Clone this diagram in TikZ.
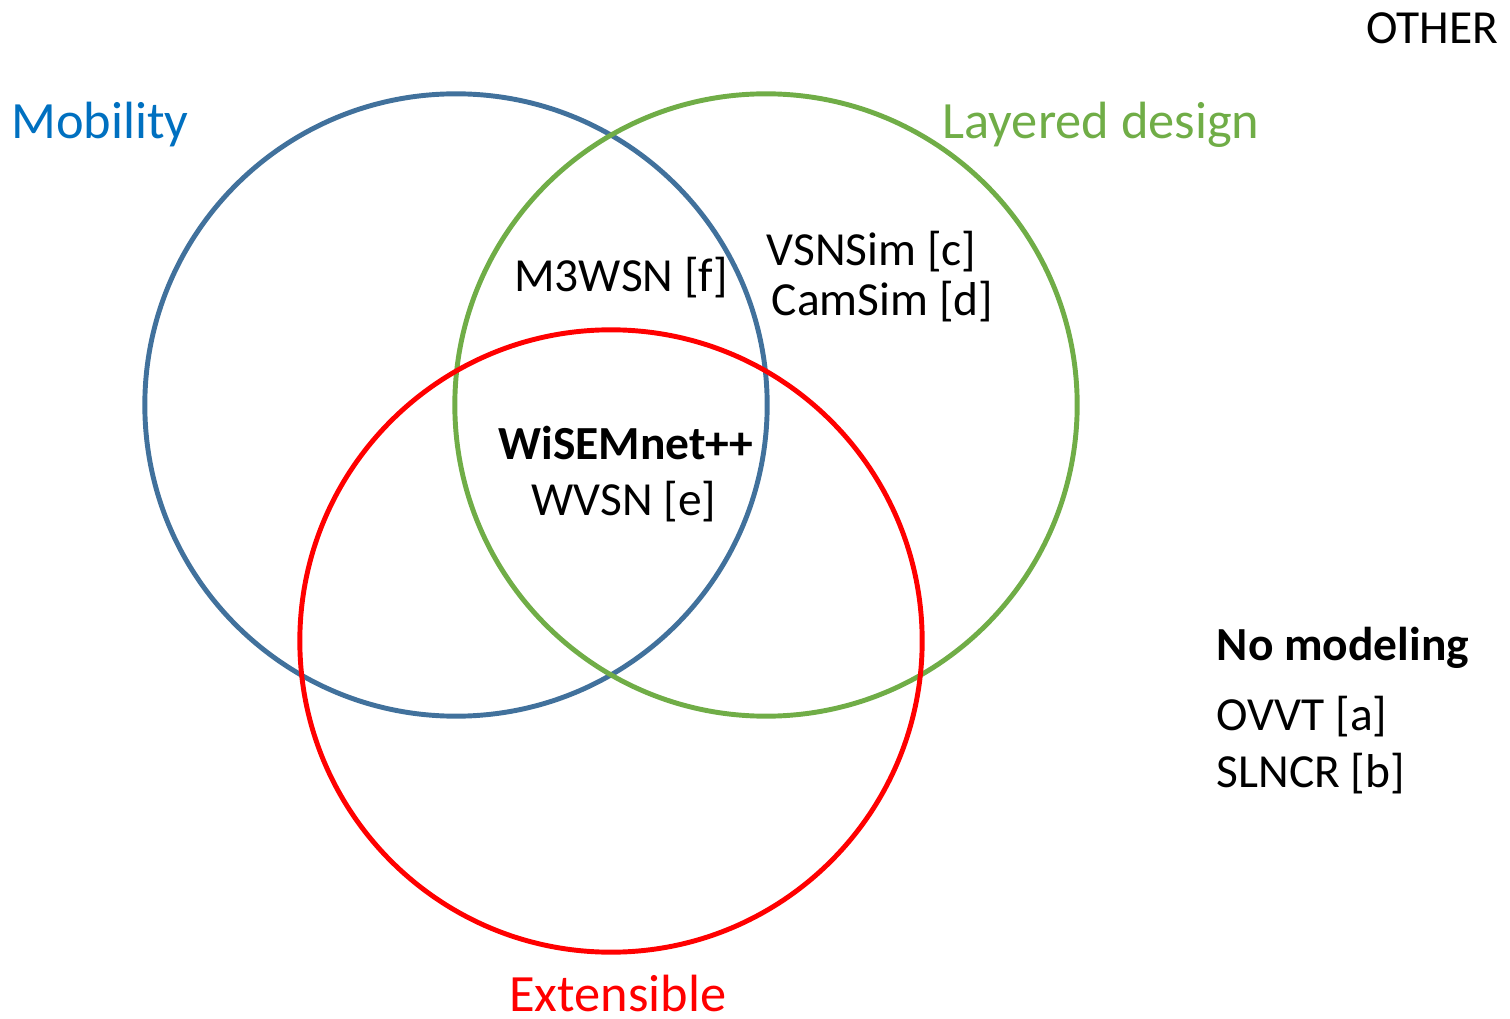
\documentclass[tikz,border=0pt]{standalone}
\usepackage{fontspec}
\setmainfont{Carlito}
\definecolor{mobblue}{HTML}{41719C}
\definecolor{mobtext}{HTML}{0070C0}
\definecolor{laygreen}{HTML}{70AD47}
\definecolor{extred}{HTML}{FF0000}
\begin{document}
\begin{tikzpicture}%
	[x=0.01cm, y=-0.01cm,
	set/.style={circle, draw, line width=1.4pt, minimum size=6.22cm, inner sep=0pt, outer sep=0pt},
	title/.style={inner sep=0pt, anchor=base, font=\fontsize{14.9}{17.8}\selectfont},
	item/.style={inner sep=0pt, anchor=base, font=\fontsize{13.5}{16}\selectfont},
	itemleft/.style={item, anchor=base west}]
	%
	%% Bounding box:
	%%
	\useasboundingbox (0,0) rectangle (1510,1019);
	%%
	%% Drawing the sets
	%%
	\node[set, draw=mobblue] (mobility) at (456,405) {};
	\node[set, draw=laygreen] (layered) at (766,405) {};
	\node[set, draw=extred] (extensible) at (611,641) {};
	%%
	%% Set titles
	%%
	\node[title, text=mobtext] (mobtitle) at (100,139) {Mobility};
	\node[title, text=laygreen] (laytitle) at (1101,139) {Layered design};
	\node[title, text=extred] (exttitle) at (618,1011) {Extensible};
	\node[item] (other) at (1432,44) {OTHER};
	%%
	%% Simulators in the regions
	%%
	\node[item] (m3wsn) at (621,292) {M3WSN [f]};
	\node[itemleft] (vsnsim) at (766,266) {VSNSim [c]};
	\node[itemleft] (camsim) at (771,316) {CamSim [d]};
	\node[item, font=\fontsize{13.5}{16}\selectfont\bfseries] (wisemnet) at (626,459) {WiSEMnet++};
	\node[item] (wvsn) at (624,515) {WVSN [e]};
	%%
	%% No modeling
	%%
	\node[itemleft, font=\fontsize{13.5}{16}\selectfont\bfseries] (nomodel) at (1216,660) {No modeling};
	\node[itemleft] (ovvt) at (1216,730) {OVVT [a]};
	\node[itemleft] (slncr) at (1216,787) {SLNCR [b]};
	%%
\end{tikzpicture}
\end{document}
